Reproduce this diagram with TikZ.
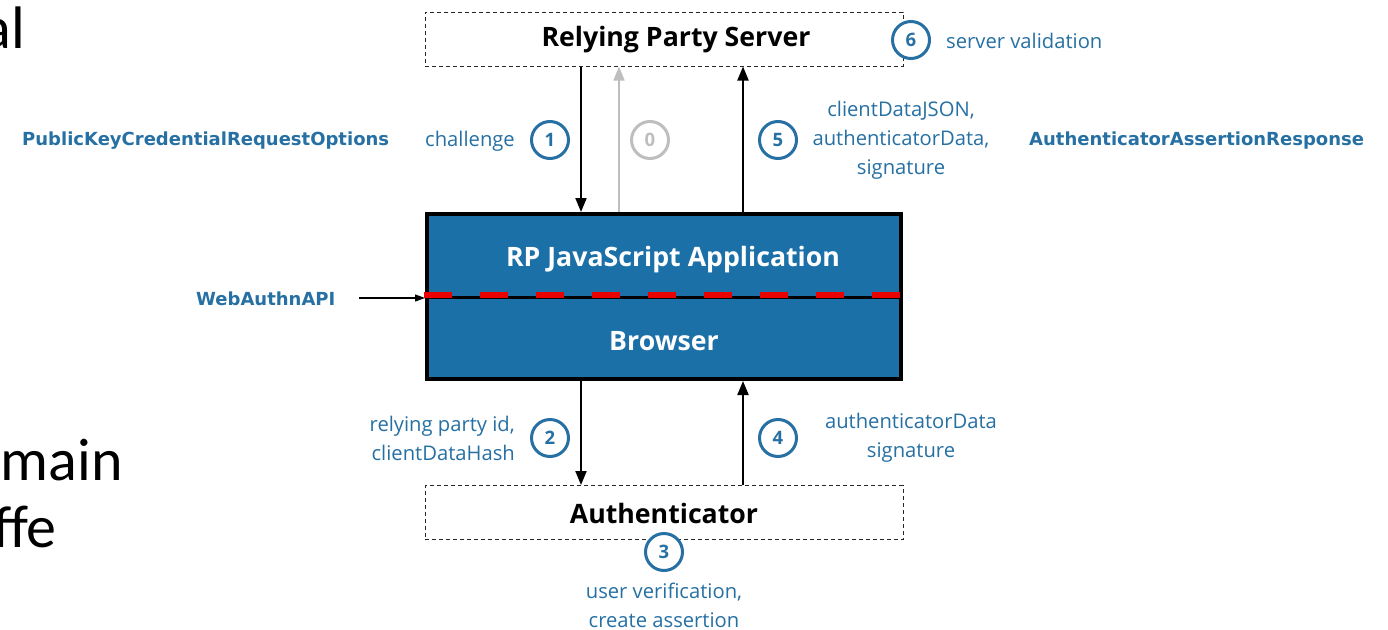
\documentclass[tikz,border=0pt]{standalone}
\usepackage{fontspec}
\setmainfont{Open Sans}
\newfontfamily\verdb{DejaVu Sans}
\newfontfamily\slidefont{Carlito}
\usetikzlibrary{arrows.meta}
\definecolor{cblue}{RGB}{38,112,163}
\definecolor{boxblue}{RGB}{27,112,168}
\definecolor{cgray}{RGB}{190,190,190}
\definecolor{dred}{RGB}{235,0,0}
\tikzset{
  dbox/.style={draw=black!85, line width=1pt, dash pattern=on 4pt off 3pt, minimum width=478pt, minimum height=54pt, inner sep=0pt},
  boxtxt/.style={font=\fontsize{26.7}{30}\selectfont\bfseries, inner sep=0pt},
  num/.style={circle, draw=cblue, line width=3pt, fill=white, minimum size=37pt, inner sep=0pt, text=cblue,
    font=\fontsize{18.5}{20}\selectfont\bfseries},
  numgray/.style={num, draw=cgray, text=cgray},
  lbl/.style={text=cblue, font=\fontsize{20.2}{29}\selectfont, align=center, inner sep=0pt},
  api/.style={text=cblue, font=\verdb\fontsize{18}{20}\selectfont\bfseries, inner sep=0pt},
  arr/.style={line width=2pt, -{Triangle[length=14pt,width=11pt]}},
  wtxt/.style={boxtxt, text=white},
  slide/.style={font=\slidefont\fontsize{60}{66}\selectfont, inner sep=0pt, anchor=base east}
}
\begin{document}
\begin{tikzpicture}[x=1pt,y=-1pt]
\useasboundingbox (0,0) rectangle (1388,629);
\clip (0,0) rectangle (1388,629);
\fill[white] (0,0) rectangle (1388,629);
% slide text fragments
\node[slide] (s1) at (25,48) {al};
\node[slide] (s2) at (123,480) {main};
\node[slide] (s3) at (57,547) {ffe};
% boxes
\node[dbox] (rps) at (664,39) {};
\node[boxtxt] (rpst) at (676,39.5) {Relying Party Server};
\node[draw=black, line width=4pt, fill=boxblue, minimum width=474pt, minimum height=165pt, inner sep=0pt] (app) at (664,296.5) {};
\draw[black, line width=3pt] (app.west |- 0,297) -- (app.east |- 0,297);
\draw[dred, line width=6.5pt, dash pattern=on 28pt off 28pt] (424,295) -- (900,295);
\node[wtxt] (rpjs) at (673,259.5) {RP JavaScript Application};
\node[wtxt] (brw) at (664,341) {Browser};
\node[dbox] (auth) at (664,512.5) {};
\node[boxtxt] (autht) at (664,513) {Authenticator};
% arrows top
\draw[arr] ([xshift=-83pt]rps.south) -- ([xshift=-83pt]app.north);
\draw[arr, draw=cgray, line width=1.6pt] ([xshift=-45pt]app.north) -- ([xshift=-45pt]rps.south);
\draw[arr] ([xshift=79pt]app.north) -- ([xshift=79pt]rps.south);
% arrows bottom
\draw[arr] ([xshift=-83pt]app.south) -- ([xshift=-83pt]auth.north);
\draw[arr] ([xshift=79pt]auth.north) -- ([xshift=79pt]app.south);
% numbers
\node[num] (n6) at (911,40) {6};
\node[num] (n1) at (550,140) {1};
\node[numgray] (n0) at (650,140) {0};
\node[num] (n5) at (778,140) {5};
\node[num] (n2) at (550,438) {2};
\node[num] (n4) at (778,438) {4};
\node[num] (n3) at (664,552) {3};
% labels
\node[lbl, anchor=west] (l6) at (946,41) {server validation};
\node[lbl, anchor=east] (l1) at (515,141) {challenge};
\node[lbl] (l5) at (901,140) {clientDataJSON,\\authenticatorData,\\signature};
\node[lbl, align=right, anchor=east] (l2) at (515,438) {relying party id,\\clientDataHash};
\node[lbl] (l4) at (911,438) {authenticatorData\\signature};
\node[lbl] (l3) at (664,605) {user verification,\\create assertion};
\node[api, anchor=west] (pk) at (22,141) {PublicKeyCredentialRequestOptions};
\node[api, anchor=west] (aar) at (1029,141) {AuthenticatorAssertionResponse};
\node[api, anchor=west] (wa) at (196,299) {WebAuthnAPI};
\coordinate (waend) at (359,298);
\draw[line width=1.2pt, -{Triangle[length=10pt,width=7pt]}] (waend) -- (app.west |- waend);
\end{tikzpicture}
\end{document}
